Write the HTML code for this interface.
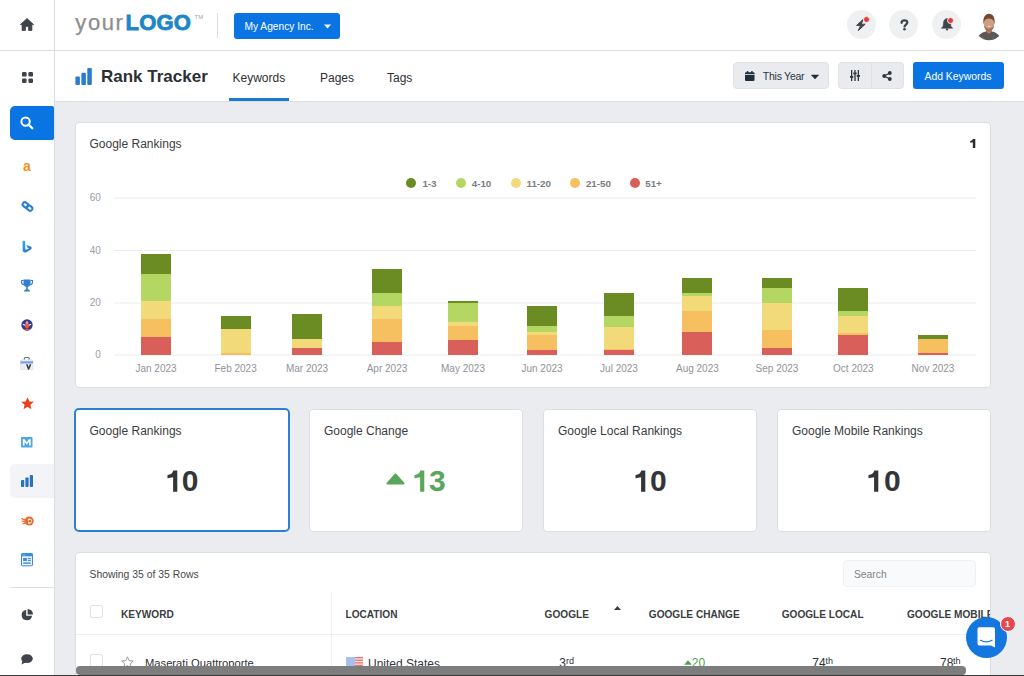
<!DOCTYPE html>
<html><head><meta charset="utf-8">
<style>
*{box-sizing:border-box;margin:0;padding:0}
html,body{width:1024px;height:676px;overflow:hidden}
body{background:#eaecef;font-family:"Liberation Sans",sans-serif;color:#333;position:relative}
.abs{position:absolute}
.card{position:absolute;background:#fff;border:1px solid #dcdee2;border-radius:4px}
.t{position:absolute;white-space:nowrap;line-height:1}
svg{position:absolute;overflow:visible}
</style></head><body>
<div class="abs" style="left:0;top:0;width:1024px;height:51px;background:#fff"></div>
<div class="abs" style="left:55px;top:51px;width:969px;height:51px;background:#fff"></div>
<div class="abs" style="left:0;top:0;width:54px;height:676px;background:#fff"></div>
<div class="abs" style="left:0;top:50px;width:1024px;height:1px;background:#dcdde0"></div>
<div class="abs" style="left:55px;top:101px;width:969px;height:1px;background:#dcdee1"></div>
<div class="abs" style="left:54px;top:0;width:1px;height:676px;background:#dcdee1"></div>
<svg style="left:20px;top:18px" width="14" height="13" viewBox="0 0 14 13"><path d="M7 0.5 L13.6 6.6 L11.9 6.6 L11.9 12.5 L8.6 12.5 L8.6 8.6 L5.4 8.6 L5.4 12.5 L2.1 12.5 L2.1 6.6 L0.4 6.6 Z" fill="#3e444a" stroke="#3e444a" stroke-width="0.8" stroke-linejoin="round"/></svg>
<div class="t" style="left:75.3px;top:11.50px;font-size:22px;color:#8d8d8d;font-weight:400;letter-spacing:1.6px;-webkit-text-stroke:0.25px #8d8d8d;">your</div>
<div class="t" style="left:125.6px;top:11.50px;font-size:22px;color:#1b87c9;font-weight:700;letter-spacing:0.2px;-webkit-text-stroke:0.8px #1b87c9;">LOGO</div>
<div class="t" style="left:194.5px;top:13.90px;font-size:6px;color:#a5a5a5;font-weight:400;">TM</div>
<div class="abs" style="left:217px;top:13px;width:1px;height:25px;background:#dedede"></div>
<div class="abs" style="left:234px;top:13px;width:106px;height:26px;background:#0b74e3;border-radius:3px"></div>
<div class="t" style="left:244.5px;top:22.33px;font-size:10.2px;color:#fff;font-weight:400;">My Agency Inc.</div>
<svg style="left:323.5px;top:23.8px" width="7" height="5" viewBox="0 0 7 5"><path d="M0 0.5 H7 L3.5 4.5 Z" fill="#fff"/></svg>
<div class="abs" style="left:846.9px;top:10px;width:29px;height:29px;border-radius:50%;background:#eef0f2"></div>
<div class="abs" style="left:889.1px;top:10px;width:29px;height:29px;border-radius:50%;background:#eef0f2"></div>
<div class="abs" style="left:931.9px;top:10px;width:29px;height:29px;border-radius:50%;background:#eef0f2"></div>
<svg style="left:854px;top:17px" width="14" height="15" viewBox="0 0 14 15"><path d="M9.3 2.3 L2.6 8.4 L6.6 8.4 L4.3 13.6 L11.2 7.2 L7.2 7.2 Z" fill="#3e444a" stroke="#3e444a" stroke-width="1" stroke-linejoin="round"/></svg>
<div class="abs" style="left:862.9px;top:15.8px;width:7px;height:7px;border-radius:50%;background:#e23c3c;border:1px solid #f4f0f0"></div>
<svg style="left:899.5px;top:18.5px" width="9" height="12" viewBox="0 0 9 12"><path d="M1.6 3.8 C1.6 2 2.9 1.3 4.4 1.3 C6.1 1.3 7.3 2.2 7.3 3.6 C7.3 5.5 5 5.6 4.6 7.4" stroke="#3e444a" stroke-width="2.3" fill="none" stroke-linecap="round"/><circle cx="4.5" cy="10.3" r="1.3" fill="#3e444a"/></svg>
<svg style="left:940.5px;top:18px" width="12" height="13" viewBox="0 0 12 13"><path d="M6 0.6 C3.6 0.6 2.6 2.8 2.4 5.2 L2.1 8.2 L0.3 10.3 L11.7 10.3 L9.9 8.2 L9.6 5.2 C9.4 2.8 8.4 0.6 6 0.6 Z" fill="#3e444a" stroke="#3e444a" stroke-width="0.5" stroke-linejoin="round"/><rect x="4.9" y="10.5" width="2.2" height="1.8" fill="#3e444a"/></svg>
<div class="abs" style="left:947.1px;top:16.7px;width:7px;height:7px;border-radius:50%;background:#e23c3c;border:1px solid #f4f0f0"></div>
<svg style="left:975px;top:12px" width="28" height="29" viewBox="0 0 28 29">
<defs><clipPath id="av"><circle cx="14" cy="14.5" r="13.8"/></clipPath></defs>
<g clip-path="url(#av)">
<rect width="28" height="29" fill="#fff"/>
<rect x="11" y="15" width="6" height="7" fill="#b07a64"/>
<path d="M2 29 C2.5 23.5 6.5 20.5 10.8 19.6 L14 22 L17.2 19.6 C21.5 20.5 25.5 23.5 26 29 Z" fill="#5c5657"/>
<path d="M7.5 24 L9 29 M19 23 L18 29" stroke="#746c6c" stroke-width="0.8"/>
<ellipse cx="14" cy="11.8" rx="5.2" ry="7.4" fill="#cf9c85"/>
<path d="M8.9 13 C9.4 17.2 11.5 19.4 14 19.4 C16.5 19.4 18.6 17.2 19.1 13 C18 15.4 16.5 16.4 14 16.5 C11.5 16.4 10 15.4 8.9 13 Z" fill="#a3735d"/>
<path d="M8.6 13 C7.4 5.2 10.4 1.8 14 1.8 C17.8 1.8 20.6 5.2 19.4 13 C19.1 8.8 18 6.8 14 6.6 C10 6.8 8.9 8.8 8.6 13 Z" fill="#74472f"/>
<path d="M11.4 13.8 Q14 16 16.6 13.8 Q14 14.8 11.4 13.8Z" fill="#fff"/>
</g></svg>
<svg style="left:75px;top:67.8px" width="17" height="17" viewBox="0 0 17 17"><rect x="0.4" y="8.5" width="4.5" height="8.5" rx="0.9" fill="#2a7ccd"/><rect x="6.4" y="4.7" width="4.5" height="12.3" rx="0.9" fill="#2a7ccd"/><rect x="12.3" y="0" width="4.5" height="17" rx="0.9" fill="#2a7ccd"/></svg>
<div class="t" style="left:101px;top:68.05px;font-size:17px;color:#2c2f33;font-weight:700;">Rank Tracker</div>
<div class="t" style="left:232.5px;top:71.80px;font-size:12px;color:#2c2f33;font-weight:400;">Keywords</div>
<div class="t" style="left:320px;top:71.80px;font-size:12px;color:#2c2f33;font-weight:400;">Pages</div>
<div class="t" style="left:387px;top:71.80px;font-size:12px;color:#2c2f33;font-weight:400;">Tags</div>
<div class="abs" style="left:229px;top:98px;width:60px;height:3px;background:#1f77d6"></div>
<div class="abs" style="left:733px;top:62px;width:96px;height:27px;background:#e9ebee;border:1px solid #e0e2e5;border-radius:4px"></div>
<svg style="left:744.5px;top:71px" width="9.5" height="10" viewBox="0 0 9.5 10"><rect x="0" y="1.2" width="9.5" height="8.8" rx="1.1" fill="#1f2f3e"/><rect x="1.8" y="0" width="1.5" height="2.6" rx="0.5" fill="#1f2f3e"/><rect x="6.2" y="0" width="1.5" height="2.6" rx="0.5" fill="#1f2f3e"/><rect x="0" y="3.2" width="9.5" height="0.8" fill="#e9ebee"/></svg>
<div class="t" style="left:762.8px;top:71.38px;font-size:10.5px;color:#2b3641;font-weight:400;letter-spacing:-0.25px;">This Year</div>
<svg style="left:810.5px;top:74.5px" width="8" height="5" viewBox="0 0 8 5"><path d="M0.3 0 H7.7 L4 4 Z" fill="#1f2f3e" stroke="#1f2f3e" stroke-width="0.5" stroke-linejoin="round"/></svg>
<div class="abs" style="left:838px;top:62px;width:66px;height:27px;background:#e9ebee;border:1px solid #e0e2e5;border-radius:4px"></div>
<div class="abs" style="left:871px;top:63px;width:1px;height:25px;background:#dde0e3"></div>
<svg style="left:850px;top:70px" width="10" height="11" viewBox="0 0 10 11"><rect x="1" y="0" width="1.3" height="11" fill="#2f353b"/><rect x="4.35" y="0" width="1.3" height="11" fill="#2f353b"/><rect x="7.7" y="0" width="1.3" height="11" fill="#2f353b"/><rect x="0" y="6" width="3.3" height="1.8" fill="#2f353b"/><rect x="3.35" y="2.5" width="3.3" height="1.8" fill="#2f353b"/><rect x="6.7" y="5" width="3.3" height="1.8" fill="#2f353b"/></svg>
<svg style="left:882px;top:70.5px" width="10" height="10" viewBox="0 0 10 10"><circle cx="7.8" cy="2" r="1.9" fill="#2f353b"/><circle cx="2.2" cy="5" r="1.9" fill="#2f353b"/><circle cx="7.8" cy="8" r="1.9" fill="#2f353b"/><path d="M7.8 2 L2.2 5 L7.8 8" stroke="#2f353b" stroke-width="1.2" fill="none"/></svg>
<div class="abs" style="left:913px;top:62px;width:91px;height:27px;background:#0b74e3;border-radius:3px"></div>
<div class="t" style="left:924.5px;top:72.46px;font-size:10.4px;color:#fff;font-weight:400;">Add Keywords</div>
<div class="abs" style="left:10px;top:106px;width:44px;height:34px;background:#0b74e3;border-radius:5px 2px 2px 5px"></div>
<svg style="left:20px;top:116px" width="14" height="14" viewBox="0 0 14 14"><circle cx="5.6" cy="5.6" r="4.2" stroke="#fff" stroke-width="2" fill="none"/><path d="M8.6 8.6 L12.3 12.3" stroke="#fff" stroke-width="2.2" stroke-linecap="round"/></svg>
<svg style="left:21.5px;top:72.3px" width="11" height="11" viewBox="0 0 11 11"><rect x="0" y="0" width="4.6" height="4.6" rx="1.2" fill="#3e444a"/><rect x="6.4" y="0" width="4.6" height="4.6" rx="1.2" fill="#3e444a"/><rect x="0" y="6.4" width="4.6" height="4.6" rx="1.2" fill="#3e444a"/><rect x="6.4" y="6.4" width="4.6" height="4.6" rx="1.2" fill="#3e444a"/></svg>
<div class="t" style="left:23px;top:159.40px;font-size:14px;color:#f0901e;font-weight:700;">a</div>
<svg style="left:20.5px;top:199.5px" width="13" height="13" viewBox="0 0 13 13"><g transform="rotate(-52 6.5 6.5)"><rect x="4.3" y="0.9" width="4.4" height="6" rx="2.2" stroke="#2a7fd0" stroke-width="2" fill="none"/><rect x="4.3" y="6.1" width="4.4" height="6" rx="2.2" stroke="#2a7fd0" stroke-width="2" fill="none"/></g></svg>
<svg style="left:22px;top:239.5px" width="10" height="13" viewBox="0 0 10 13"><defs><linearGradient id="bg" x1="0" y1="0" x2="1" y2="1"><stop offset="0" stop-color="#37b2e8"/><stop offset="1" stop-color="#1b5fd0"/></linearGradient></defs><path d="M0.6 0.4 L3.2 1.2 V8.6 C3.2 9.6 4 10 4.9 9.5 L7.2 8.2 L5.1 7.2 L4.5 5.1 L8.7 6.6 C9.8 7 10 8.6 9 9.3 L4.4 12.2 C2.6 13.2 0.6 12 0.6 10 Z" fill="url(#bg)"/></svg>
<svg style="left:21px;top:278.5px" width="12" height="13" viewBox="0 0 12 13"><path d="M2.5 0.5 H9.5 V4.5 C9.5 6.8 8 8 6 8 C4 8 2.5 6.8 2.5 4.5 Z" fill="#2f80d1"/><path d="M2.5 1.5 H0.5 V3 C0.5 4.8 1.8 5.6 3 5.6" stroke="#2f80d1" stroke-width="1.1" fill="none"/><path d="M9.5 1.5 H11.5 V3 C11.5 4.8 10.2 5.6 9 5.6" stroke="#2f80d1" stroke-width="1.1" fill="none"/><rect x="5.2" y="7.5" width="1.6" height="3" fill="#2f80d1"/><path d="M3 12.5 C3 10.8 4.5 10.2 6 10.2 C7.5 10.2 9 10.8 9 12.5 Z" fill="#2f80d1"/></svg>
<svg style="left:21px;top:318.5px" width="12" height="12" viewBox="0 0 12 12"><defs><clipPath id="gc"><circle cx="6" cy="6" r="5.7"/></clipPath></defs><circle cx="6" cy="6" r="5.7" fill="#2b3a98"/><g clip-path="url(#gc)"><path d="M1 12 Q6 7.5 11 12 Z" fill="#e8583a"/><ellipse cx="6" cy="6.6" rx="2.2" ry="2.8" fill="#e8583a"/><circle cx="6" cy="3.6" r="1.3" fill="#f3a58a"/><path d="M1.8 5.2 L4 6.2 M10.2 5.2 L8 6.2" stroke="#fff" stroke-width="1.1"/></g></svg>
<svg style="left:20.3px;top:357px" width="13.5" height="13" viewBox="0 0 13.5 13"><rect x="4.3" y="0.5" width="5" height="3" rx="1" stroke="#6d7279" stroke-width="1.1" fill="none"/><rect x="0.5" y="2.8" width="12.5" height="9.8" rx="1" fill="#eceef2" stroke="#d3d7dd" stroke-width="0.5"/><rect x="0.5" y="4.3" width="12.5" height="2.2" fill="#6fa3e3"/><path d="M6.8 7.2 L8.6 12 L10.6 7.2" stroke="#3a4047" stroke-width="1.6" fill="none" stroke-linejoin="round"/></svg>
<svg style="left:20.5px;top:396.5px" width="13" height="13" viewBox="0 0 13 13"><path d="M6.5 0.3 L8.4 4.5 L12.8 4.8 L9.4 7.7 L10.5 12.3 L6.5 9.8 L2.5 12.3 L3.6 7.7 L0.2 4.8 L4.6 4.5 Z" fill="#e5411b"/></svg>
<svg style="left:21.2px;top:437px" width="11.5" height="10.6" viewBox="0 0 11.5 10.6"><rect width="11.5" height="10.6" rx="0.8" fill="#4ea8df"/><path d="M1.8 8.6 V2.2 H3.6 L5.75 5.3 L7.9 2.2 H9.7 V8.6 H8 V4.9 L5.75 7.6 L3.5 4.9 V8.6 Z" fill="#fff"/></svg>
<div class="abs" style="left:10px;top:464px;width:44px;height:34px;background:#f2f4f7;border-radius:5px 0 0 5px"></div>
<svg style="left:21px;top:475px" width="12" height="12" viewBox="0 0 12 12"><rect x="0" y="5" width="3.2" height="7" rx="0.8" fill="#2a72c0"/><rect x="4.4" y="2.5" width="3.2" height="9.5" rx="0.8" fill="#2a72c0"/><rect x="8.8" y="0" width="3.2" height="12" rx="0.8" fill="#2a72c0"/></svg>
<svg style="left:21px;top:516px" width="13" height="10" viewBox="0 0 13 10"><circle cx="8.2" cy="5" r="4.5" fill="#ea6a2c"/><path d="M6.6 3.2 A2.6 2.6 0 1 1 6.8 7.2 A3.2 3.2 0 0 0 6.6 3.2 Z" fill="#fff"/><circle cx="9" cy="5.2" r="1.4" fill="#ea6a2c"/><path d="M0.3 2.6 L5 3.6 L5 4.6 Z M0.8 5.2 L4.6 5 L4.6 6 Z M1.6 7.8 L5 6.6 L5.3 7.4 Z" fill="#ea6a2c" stroke="#ea6a2c" stroke-width="0.8" stroke-linejoin="round"/></svg>
<svg style="left:21.2px;top:553px" width="12" height="13.3" viewBox="0 0 12 13.3"><rect x="0.5" y="0.5" width="11" height="12.3" rx="0.8" fill="#eaf2fb" stroke="#3b8bd5" stroke-width="1"/><rect x="0.5" y="0.5" width="11" height="2.8" fill="#3b8bd5"/><circle cx="2.2" cy="1.9" r="0.45" fill="#fff"/><circle cx="3.6" cy="1.9" r="0.45" fill="#fff"/><circle cx="5" cy="1.9" r="0.45" fill="#fff"/><rect x="2.2" y="5" width="3.6" height="3" fill="#3b8bd5"/><rect x="6.8" y="5" width="3" height="1.2" fill="#3b8bd5"/><rect x="6.8" y="7" width="3" height="1" fill="#3b8bd5"/><rect x="2.2" y="9.4" width="7.6" height="1.4" fill="#3b8bd5"/></svg>
<div class="abs" style="left:10px;top:587px;width:44px;height:1px;background:#dcdee1"></div>
<svg style="left:21px;top:609px" width="12" height="12" viewBox="0 0 12 12"><path d="M5.2 1 A5.2 5.2 0 1 0 11 6.8 L5.2 6.8 Z" fill="#3e444a"/><path d="M6.6 0 A5.4 5.4 0 0 1 12 5.4 L6.6 5.4 Z" fill="#3e444a"/></svg>
<svg style="left:21px;top:654px" width="12" height="11" viewBox="0 0 12 11"><ellipse cx="6" cy="4.6" rx="5.8" ry="4.4" fill="#3e444a"/><path d="M1.5 7 L0.5 10.5 L4.5 8.5 Z" fill="#3e444a"/></svg>
<div class="card" style="left:75px;top:122px;width:916px;height:266px"></div>
<div class="t" style="left:89.5px;top:137.80px;font-size:12px;color:#3a3d42;font-weight:400;">Google Rankings</div>
<svg style="left:969.9px;top:138.9px" width="6" height="10" viewBox="0 0 6 10"><path d="M5.3 0.1 V9 H2.8 V3.3 L0.2 3.8 V2.1 C1.6 1.9 2.5 1.2 2.9 0.1 Z" fill="#2a2d31"/></svg>
<div class="abs" style="left:406px;top:178px;width:10px;height:10px;border-radius:50%;background:#6b8b23"></div>
<div class="t" style="left:422.4px;top:178.87px;font-size:9.8px;color:#7a7d82;font-weight:700;">1-3</div>
<div class="abs" style="left:456px;top:178px;width:10px;height:10px;border-radius:50%;background:#b3d762"></div>
<div class="t" style="left:471.7px;top:178.87px;font-size:9.8px;color:#7a7d82;font-weight:700;">4-10</div>
<div class="abs" style="left:511px;top:178px;width:10px;height:10px;border-radius:50%;background:#f2da7b"></div>
<div class="t" style="left:526.5px;top:178.87px;font-size:9.8px;color:#7a7d82;font-weight:700;">11-20</div>
<div class="abs" style="left:570px;top:178px;width:10px;height:10px;border-radius:50%;background:#f6c060"></div>
<div class="t" style="left:585.9px;top:178.87px;font-size:9.8px;color:#7a7d82;font-weight:700;">21-50</div>
<div class="abs" style="left:630px;top:178px;width:10px;height:10px;border-radius:50%;background:#d95f5b"></div>
<div class="t" style="left:645.2px;top:178.87px;font-size:9.8px;color:#7a7d82;font-weight:700;">51+</div>
<svg style="left:0;top:0" width="1024" height="676"><rect x="114" y="197.5" width="862" height="1" fill="#ececec"/><rect x="114" y="250.0" width="862" height="1" fill="#ececec"/><rect x="114" y="302.5" width="862" height="1" fill="#ececec"/><rect x="114" y="354.5" width="862" height="1" fill="#ececec"/><rect x="141" y="254" width="30" height="101" fill="#6b8b23" shape-rendering="crispEdges"/><rect x="141" y="274" width="30" height="81" fill="#b3d762" shape-rendering="crispEdges"/><rect x="141" y="301" width="30" height="54" fill="#f2da7b" shape-rendering="crispEdges"/><rect x="141" y="319" width="30" height="36" fill="#f6c060" shape-rendering="crispEdges"/><rect x="141" y="337" width="30" height="18" fill="#d95f5b" shape-rendering="crispEdges"/><rect x="221" y="316" width="30" height="39" fill="#6b8b23" shape-rendering="crispEdges"/><rect x="221" y="329" width="30" height="26" fill="#f2da7b" shape-rendering="crispEdges"/><rect x="221" y="353" width="30" height="2" fill="#f6c060" shape-rendering="crispEdges"/><rect x="292" y="314" width="30" height="41" fill="#6b8b23" shape-rendering="crispEdges"/><rect x="292" y="339" width="30" height="16" fill="#f2da7b" shape-rendering="crispEdges"/><rect x="292" y="348" width="30" height="7" fill="#d95f5b" shape-rendering="crispEdges"/><rect x="372" y="269" width="30" height="86" fill="#6b8b23" shape-rendering="crispEdges"/><rect x="372" y="293" width="30" height="62" fill="#b3d762" shape-rendering="crispEdges"/><rect x="372" y="306" width="30" height="49" fill="#f2da7b" shape-rendering="crispEdges"/><rect x="372" y="319" width="30" height="36" fill="#f6c060" shape-rendering="crispEdges"/><rect x="372" y="342" width="30" height="13" fill="#d95f5b" shape-rendering="crispEdges"/><rect x="448" y="301" width="30" height="54" fill="#6b8b23" shape-rendering="crispEdges"/><rect x="448" y="303" width="30" height="52" fill="#b3d762" shape-rendering="crispEdges"/><rect x="448" y="322" width="30" height="33" fill="#f2da7b" shape-rendering="crispEdges"/><rect x="448" y="326" width="30" height="29" fill="#f6c060" shape-rendering="crispEdges"/><rect x="448" y="340" width="30" height="15" fill="#d95f5b" shape-rendering="crispEdges"/><rect x="527" y="306" width="30" height="49" fill="#6b8b23" shape-rendering="crispEdges"/><rect x="527" y="326" width="30" height="29" fill="#b3d762" shape-rendering="crispEdges"/><rect x="527" y="332" width="30" height="23" fill="#f2da7b" shape-rendering="crispEdges"/><rect x="527" y="335" width="30" height="20" fill="#f6c060" shape-rendering="crispEdges"/><rect x="527" y="350" width="30" height="5" fill="#d95f5b" shape-rendering="crispEdges"/><rect x="604" y="293" width="30" height="62" fill="#6b8b23" shape-rendering="crispEdges"/><rect x="604" y="316" width="30" height="39" fill="#b3d762" shape-rendering="crispEdges"/><rect x="604" y="327" width="30" height="28" fill="#f2da7b" shape-rendering="crispEdges"/><rect x="604" y="349" width="30" height="6" fill="#f6c060" shape-rendering="crispEdges"/><rect x="604" y="350" width="30" height="5" fill="#d95f5b" shape-rendering="crispEdges"/><rect x="682" y="278" width="30" height="77" fill="#6b8b23" shape-rendering="crispEdges"/><rect x="682" y="293" width="30" height="62" fill="#b3d762" shape-rendering="crispEdges"/><rect x="682" y="296" width="30" height="59" fill="#f2da7b" shape-rendering="crispEdges"/><rect x="682" y="311" width="30" height="44" fill="#f6c060" shape-rendering="crispEdges"/><rect x="682" y="332" width="30" height="23" fill="#d95f5b" shape-rendering="crispEdges"/><rect x="762" y="278" width="30" height="77" fill="#6b8b23" shape-rendering="crispEdges"/><rect x="762" y="288" width="30" height="67" fill="#b3d762" shape-rendering="crispEdges"/><rect x="762" y="303" width="30" height="52" fill="#f2da7b" shape-rendering="crispEdges"/><rect x="762" y="330" width="30" height="25" fill="#f6c060" shape-rendering="crispEdges"/><rect x="762" y="348" width="30" height="7" fill="#d95f5b" shape-rendering="crispEdges"/><rect x="838" y="288" width="30" height="67" fill="#6b8b23" shape-rendering="crispEdges"/><rect x="838" y="311" width="30" height="44" fill="#b3d762" shape-rendering="crispEdges"/><rect x="838" y="316" width="30" height="39" fill="#f2da7b" shape-rendering="crispEdges"/><rect x="838" y="333" width="30" height="22" fill="#f6c060" shape-rendering="crispEdges"/><rect x="838" y="335" width="30" height="20" fill="#d95f5b" shape-rendering="crispEdges"/><rect x="918" y="335" width="30" height="20" fill="#6b8b23" shape-rendering="crispEdges"/><rect x="918" y="339" width="30" height="16" fill="#f6c060" shape-rendering="crispEdges"/><rect x="918" y="353" width="30" height="2" fill="#d95f5b" shape-rendering="crispEdges"/></svg>
<div class="t" style="right:923.2px;top:193.10px;font-size:10px;color:#9a9ea3;font-weight:400;">60</div>
<div class="t" style="right:923.2px;top:245.60px;font-size:10px;color:#9a9ea3;font-weight:400;">40</div>
<div class="t" style="right:923.2px;top:298.10px;font-size:10px;color:#9a9ea3;font-weight:400;">20</div>
<div class="t" style="right:923.2px;top:350.10px;font-size:10px;color:#9a9ea3;font-weight:400;">0</div>
<div class="t" style="left:156px;transform:translateX(-50%);top:363.50px;font-size:10px;color:#8f9399;font-weight:400;">Jan 2023</div>
<div class="t" style="left:235.6px;transform:translateX(-50%);top:363.50px;font-size:10px;color:#8f9399;font-weight:400;">Feb 2023</div>
<div class="t" style="left:307px;transform:translateX(-50%);top:363.50px;font-size:10px;color:#8f9399;font-weight:400;">Mar 2023</div>
<div class="t" style="left:387px;transform:translateX(-50%);top:363.50px;font-size:10px;color:#8f9399;font-weight:400;">Apr 2023</div>
<div class="t" style="left:463px;transform:translateX(-50%);top:363.50px;font-size:10px;color:#8f9399;font-weight:400;">May 2023</div>
<div class="t" style="left:542px;transform:translateX(-50%);top:363.50px;font-size:10px;color:#8f9399;font-weight:400;">Jun 2023</div>
<div class="t" style="left:619px;transform:translateX(-50%);top:363.50px;font-size:10px;color:#8f9399;font-weight:400;">Jul 2023</div>
<div class="t" style="left:697.4px;transform:translateX(-50%);top:363.50px;font-size:10px;color:#8f9399;font-weight:400;">Aug 2023</div>
<div class="t" style="left:777px;transform:translateX(-50%);top:363.50px;font-size:10px;color:#8f9399;font-weight:400;">Sep 2023</div>
<div class="t" style="left:853.4px;transform:translateX(-50%);top:363.50px;font-size:10px;color:#8f9399;font-weight:400;">Oct 2023</div>
<div class="t" style="left:933px;transform:translateX(-50%);top:363.50px;font-size:10px;color:#8f9399;font-weight:400;">Nov 2023</div>
<div class="card" style="left:74px;top:408px;width:216px;height:124px;border:2px solid #2b80d6;border-radius:5px"></div>
<div class="card" style="left:309px;top:409px;width:214px;height:123px"></div>
<div class="card" style="left:543px;top:409px;width:214px;height:123px"></div>
<div class="card" style="left:777px;top:409px;width:214px;height:123px"></div>
<div class="t" style="left:89.5px;top:424.50px;font-size:12px;color:#3a3d42;font-weight:400;">Google Rankings</div>
<div class="t" style="left:324px;top:424.50px;font-size:12px;color:#3a3d42;font-weight:400;">Google Change</div>
<div class="t" style="left:558px;top:424.50px;font-size:12px;color:#3a3d42;font-weight:400;">Google Local Rankings</div>
<div class="t" style="left:792px;top:424.50px;font-size:12px;color:#3a3d42;font-weight:400;">Google Mobile Rankings</div>
<svg style="left:166.70px;top:469.8px" width="11" height="23" viewBox="0 0 11 23"><path d="M10.3 0.5 L10.3 21.8 L6.1 21.8 L6.1 7.2 L0.5 8.2 L0.5 5.0 C3.8 4.7 5.6 3.2 6.3 0.5 Z" fill="#333538"/></svg>
<div class="t" style="left:181.8px;top:466.30px;font-size:30px;color:#333538;font-weight:700;">0</div>
<svg style="left:634.50px;top:469.8px" width="11" height="23" viewBox="0 0 11 23"><path d="M10.3 0.5 L10.3 21.8 L6.1 21.8 L6.1 7.2 L0.5 8.2 L0.5 5.0 C3.8 4.7 5.6 3.2 6.3 0.5 Z" fill="#333538"/></svg>
<div class="t" style="left:650.1px;top:466.30px;font-size:30px;color:#333538;font-weight:700;">0</div>
<svg style="left:868.40px;top:469.8px" width="11" height="23" viewBox="0 0 11 23"><path d="M10.3 0.5 L10.3 21.8 L6.1 21.8 L6.1 7.2 L0.5 8.2 L0.5 5.0 C3.8 4.7 5.6 3.2 6.3 0.5 Z" fill="#333538"/></svg>
<div class="t" style="left:884.0px;top:466.30px;font-size:30px;color:#333538;font-weight:700;">0</div>
<svg style="left:385.5px;top:472.5px" width="19" height="12" viewBox="0 0 19 12"><path d="M9.5 1.5 L17.5 10.5 L1.5 10.5 Z" fill="#5aa65b" stroke="#5aa65b" stroke-width="2" stroke-linejoin="round"/></svg>
<svg style="left:414.30px;top:469.8px" width="11" height="23" viewBox="0 0 11 23"><path d="M10.3 0.5 L10.3 21.8 L6.1 21.8 L6.1 7.2 L0.5 8.2 L0.5 5.0 C3.8 4.7 5.6 3.2 6.3 0.5 Z" fill="#5aa65b"/></svg>
<div class="t" style="left:429.0px;top:466.30px;font-size:30px;color:#5aa65b;font-weight:700;">3</div>
<div class="card" style="left:75px;top:552px;width:916px;height:140px;overflow:hidden"></div>
<div class="t" style="left:89.5px;top:569.66px;font-size:10.4px;color:#45484c;font-weight:400;">Showing 35 of 35 Rows</div>
<div class="abs" style="left:843px;top:560px;width:133px;height:27px;background:#f9fafb;border:1px solid #eff1f3;border-radius:4px"></div>
<div class="t" style="left:854px;top:569.54px;font-size:10.3px;color:#808489;font-weight:400;">Search</div>
<div class="abs" style="left:331px;top:592px;width:1px;height:84px;background:#eceef0"></div>
<div class="abs" style="left:76px;top:634px;width:914px;height:1px;background:#eceef0"></div>
<div class="abs" style="left:90px;top:605px;width:13px;height:13px;border:1px solid #dfe1e4;border-radius:2px;background:#fff"></div>
<div class="abs" style="left:90px;top:654px;width:13px;height:13px;border:1px solid #dfe1e4;border-radius:2px;background:#fff"></div>
<div class="t" style="left:121px;top:609.71px;font-size:10.1px;color:#3a3d42;font-weight:700;">KEYWORD</div>
<div class="t" style="left:345.5px;top:609.71px;font-size:10.1px;color:#3a3d42;font-weight:700;">LOCATION</div>
<div class="t" style="left:544.6px;top:609.71px;font-size:10.1px;color:#3a3d42;font-weight:700;">GOOGLE</div>
<div class="t" style="left:648.8px;top:609.71px;font-size:10.1px;color:#3a3d42;font-weight:700;">GOOGLE CHANGE</div>
<div class="t" style="left:781.7px;top:609.71px;font-size:10.1px;color:#3a3d42;font-weight:700;">GOOGLE LOCAL</div>
<div class="abs" style="left:907px;top:600px;width:83px;height:25px;overflow:hidden"><div class="t" style="left:0px;top:9.72px;font-size:10.1px;color:#3a3d42;font-weight:700;">GOOGLE MOBILE</div>
</div>
<svg style="left:613.5px;top:606px" width="7" height="4" viewBox="0 0 7 4"><path d="M3.5 0 L7 4 L0 4 Z" fill="#3a3d42"/></svg>
<svg style="left:121px;top:655.5px" width="13" height="13" viewBox="0 0 13 13"><path d="M6.5 0.8 L8.2 4.7 L12.3 5 L9.2 7.7 L10.1 11.8 L6.5 9.6 L2.9 11.8 L3.8 7.7 L0.7 5 L4.8 4.7 Z" fill="none" stroke="#8d9196" stroke-width="0.9" stroke-linejoin="round"/></svg>
<div class="t" style="left:145px;top:657.68px;font-size:11.2px;color:#2f3236;font-weight:400;">Maserati Quattroporte</div>
<svg style="left:346px;top:656.5px" width="17" height="10" viewBox="0 0 17 10"><rect width="17" height="10" fill="#f3eaea"/><rect x="9" y="0" width="8" height="1.3" fill="#ee7070"/><rect x="9" y="2.6" width="8" height="1.3" fill="#ee7070"/><rect x="9" y="5.2" width="8" height="1.3" fill="#ee7070"/><rect x="9" y="7.8" width="8" height="1.3" fill="#ee7070"/><rect width="9" height="10" fill="#a4c1ee"/></svg>
<div class="t" style="left:368px;top:657.80px;font-size:12px;color:#35383c;font-weight:400;">United States</div>
<div class="t" style="left:559.3px;top:657.00px;font-size:12px;color:#2f3236;font-weight:400;">3</div>
<div class="t" style="left:566px;top:656.55px;font-size:9px;color:#2f3236;font-weight:400;">rd</div>
<svg style="left:684px;top:660px" width="8" height="5" viewBox="0 0 8 5"><path d="M4 0.6 L7.3 4.4 L0.7 4.4 Z" fill="#4f9f50" stroke="#4f9f50" stroke-width="0.6" stroke-linejoin="round"/></svg>
<div class="t" style="left:691.8px;top:657.00px;font-size:12px;color:#4f9f50;font-weight:400;">20</div>
<div class="t" style="left:812.3px;top:657.00px;font-size:12px;color:#2f3236;font-weight:400;">74</div>
<div class="t" style="left:825.4px;top:656.55px;font-size:9px;color:#2f3236;font-weight:400;">th</div>
<div class="t" style="left:940px;top:657.00px;font-size:12px;color:#2f3236;font-weight:400;">78</div>
<div class="t" style="left:953.1px;top:656.55px;font-size:9px;color:#2f3236;font-weight:400;">th</div>
<div class="abs" style="left:76px;top:666px;width:890px;height:8.5px;background:#7d7d7d;border-radius:4px"></div>
<div class="abs" style="left:0;top:675px;width:1024px;height:1px;background:#3a3a3a"></div>
<div class="abs" style="left:966px;top:617px;width:41px;height:41px;border-radius:50%;background:#1477e0"></div>
<svg style="left:977.3px;top:627px" width="19" height="21" viewBox="0 0 19 21"><path d="M2.3 0.2 H16.2 A1.8 1.8 0 0 1 18 2 V20.5 L14.2 18.6 H2.3 A1.8 1.8 0 0 1 0.5 16.8 V2 A1.8 1.8 0 0 1 2.3 0.2 Z" fill="#fff"/><path d="M3.6 13.3 Q9.3 16.6 15 13.3" stroke="#1477e0" stroke-width="1.3" fill="none" stroke-linecap="round"/></svg>
<div class="abs" style="left:999.5px;top:616px;width:16px;height:16px;border-radius:50%;background:#e5484d;border:1.5px solid #fff"></div>
<div class="t" style="left:1005px;top:620.15px;font-size:9px;color:#fff;font-weight:700;">1</div>
</body></html>
